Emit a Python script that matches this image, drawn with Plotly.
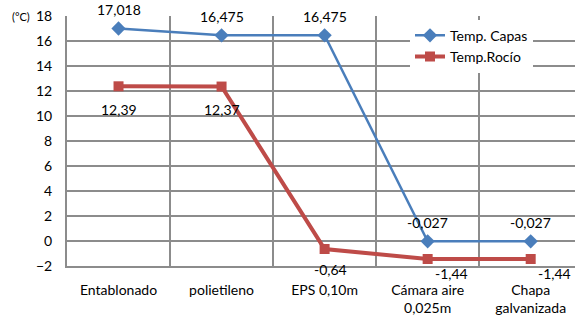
import plotly.graph_objects as go

categories = ["Entablonado", "polietileno", "EPS 0,10m", "Cámara aire<br>0,025m", "Chapa<br>galvanizada"]
temp_capas = [17.018, 16.475, 16.475, -0.027, -0.027]
temp_rocio = [12.39, 12.37, -0.64, -1.44, -1.44]
capas_labels = ["17,018", "16,475", "16,475", "-0,027", "-0,027"]
rocio_labels = ["12,39", "12,37", "-0,64", "-1,44", "-1,44"]
y_ticks = [-2, 0, 2, 4, 6, 8, 10, 12, 14, 16, 18]

FONT = "Lato"
FS = 14
L, T, B, W, H = 67, 16, 52, 575, 318
fig = go.Figure()
fig.add_trace(go.Scatter(
    x=categories, y=temp_capas, name="Temp. Capas", mode="lines+markers",
    line=dict(color="#4A7EBB", width=2.5),
    marker=dict(symbol="diamond", size=11, color="#4A7EBB"),
))
fig.add_trace(go.Scatter(
    x=categories, y=temp_rocio, name="Temp.Rocío", mode="lines+markers",
    line=dict(color="#BE4B48", width=4),
    marker=dict(symbol="square", size=10, color="#BE4B48"),
))

annotations = []
for i, (c, v, t) in enumerate(zip(categories, temp_capas, capas_labels)):
    annotations.append(dict(x=c, y=v, text=t, showarrow=False, yshift=19,
                            font=dict(family=FONT, size=FS, color="black")))
for i, (c, v, t) in enumerate(zip(categories, temp_rocio, rocio_labels)):
    xs = 24 if i >= 3 else (6 if i == 2 else 0)
    ys = -14 if i >= 3 else (-20 if i == 2 else -23)
    annotations.append(dict(x=c, y=v, text=t, showarrow=False, yshift=ys, xshift=xs,
                            font=dict(family=FONT, size=FS, color="black")))
annotations.append(dict(x=(21 - L) / (W - L), xref="paper", y=18, yref="y", text="(°C)",
                        showarrow=False, xanchor="center", yanchor="middle",
                        font=dict(family=FONT, size=11, color="black")))

fig.update_layout(
    width=W, height=H,
    margin=dict(l=L, r=0, t=T, b=B, autoexpand=False),
    paper_bgcolor="white", plot_bgcolor="white",
    font=dict(family=FONT, size=FS, color="black"),
    showlegend=True,
    legend=dict(x=(410 - L) / (W - L), y=0.985, xanchor="left", yanchor="top",
                bgcolor="white", font=dict(family=FONT, size=FS, color="black"),
                itemwidth=30),
    annotations=annotations,
)
fig.update_xaxes(
    type="category", range=[-0.5, 4.43], tickson="boundaries", automargin=False,
    showgrid=True, gridcolor="#8C8C8C", gridwidth=2,
    showline=True, linecolor="#8C8C8C", linewidth=2,
    ticks="", ticklabelstandoff=10, tickfont=dict(family=FONT, size=FS),
)
fig.update_yaxes(
    range=[-2.0, 18.02], tickvals=y_ticks, ticks="", automargin=False,
    showgrid=True, gridcolor="#8C8C8C", gridwidth=2,
    showline=True, linecolor="#8C8C8C", linewidth=2,
    zeroline=False, tickfont=dict(family=FONT, size=FS), ticklabelstandoff=10,
)
fig.write_html(
    "out.html",
    config={"displayModeBar": False},
    post_script="document.body.style.margin='0';document.body.style.overflow='hidden';",
)
